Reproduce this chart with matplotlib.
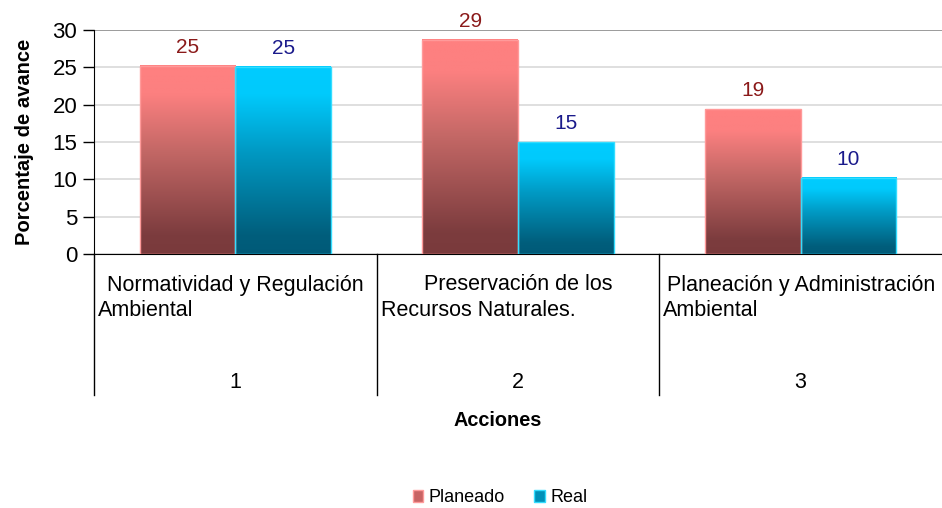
import numpy as np
import matplotlib
matplotlib.use("Agg")
import matplotlib.pyplot as plt
from matplotlib.colors import LinearSegmentedColormap
from matplotlib.patches import Rectangle
import matplotlib.transforms as mtransforms

# ---- data ----
categories_line1 = ["Normatividad y Regulación", "Preservación de los", "Planeación y Administración"]
categories_line2 = ["Ambiental", "Recursos Naturales.", "Ambiental"]
category_numbers = ["1", "2", "3"]
series_names = ["Planeado", "Real"]
planeado = [25.2, 28.7, 19.4]
real = [25.1, 15.0, 10.2]
planeado_labels = ["25", "29", "19"]
real_labels = ["25", "15", "10"]
yticks = [0, 5, 10, 15, 20, 25, 30]

plt.rcParams['font.family'] = ['Liberation Sans', 'DejaVu Sans']
fig = plt.figure(figsize=(9.42, 5.08), dpi=100)
ax = fig.add_axes([94/942, 1-254/508, 1-94/942, (254-30)/508])

cmap_p = LinearSegmentedColormap.from_list(
    "p", [(0, "#7a3a3c"), (0.1, "#7c3c3e"), (0.55, "#c46866"), (0.85, "#fc8080"), (1, "#ff8080")])
cmap_r = LinearSegmentedColormap.from_list(
    "r", [(0, "#005a78"), (0.1, "#005e7c"), (0.55, "#009ac4"), (0.85, "#00cafc"), (1, "#00ccff")])

bar_w = 0.338
x = np.arange(len(planeado))
grad = np.linspace(0, 1, 256).reshape(-1, 1)

def gbar(xc, h, cmap, edge):
    x0 = xc - bar_w/2
    ax.imshow(grad, extent=(x0, x0+bar_w, 0, h), origin='lower', cmap=cmap,
              aspect='auto', zorder=3, interpolation='bilinear')
    ax.add_patch(Rectangle((x0, 0), bar_w, h, fill=False, edgecolor=edge, lw=1.0, zorder=4))

for i in range(len(x)):
    gbar(x[i] - bar_w/2, planeado[i], cmap_p, "#ff9a9a")
    gbar(x[i] + bar_w/2, real[i], cmap_r, "#33ddff")
    ax.text(x[i] - bar_w/2, planeado[i] + 1.2, planeado_labels[i], ha='center', va='bottom',
            fontsize=15, color="#8b1a1a", zorder=5)
    ax.text(x[i] + bar_w/2, real[i] + 1.2, real_labels[i], ha='center', va='bottom',
            fontsize=15, color="#1a1a8b", zorder=5)

ax.set_xlim(-0.5, 2.5)
ax.set_ylim(0, 30)
ax.set_yticks(yticks)
ax.set_yticklabels([str(v) for v in yticks], fontsize=16)
ax.yaxis.grid(True, color="#d9d9d9", lw=1.2, zorder=0)
ax.set_axisbelow(True)
ax.set_xticks([])
ax.tick_params(axis='y', length=8, width=1, color='black', pad=4)
for s in ['top', 'right']:
    ax.spines[s].set_visible(False)
ax.spines['left'].set_color('black')
ax.spines['bottom'].set_color('black')
ax.axhline(30, color="#909090", lw=1.2, zorder=1)

ax.set_ylabel("Porcentaje de avance", fontsize=14.5, fontweight='bold', labelpad=13)

trans = mtransforms.blended_transform_factory(ax.transData, ax.transAxes)
axh = (254-30)
def ay(py):
    return (254 - py) / axh

for b in [-0.5, 0.5, 1.5]:
    ax.plot([b, b], [0, ay(395)], transform=trans, color='black', lw=1, clip_on=False)

for i in range(len(x)):
    ax.text(x[i], ay(285), categories_line1[i], transform=trans, ha='center', va='center',
            fontsize=15.5)
    ax.text(x[i] - 0.5 + 0.014, ay(311), categories_line2[i], transform=trans, ha='left', va='center',
            fontsize=15.5)
    ax.text(x[i], ay(383), category_numbers[i], transform=trans, ha='center', va='center',
            fontsize=15.5)

fig.text(498/942, 1-420/508, "Acciones", ha='center', va='center', fontsize=14.3, fontweight='bold')

handles = [Rectangle((0, 0), 1, 1, facecolor="#c86464", edgecolor="#ff9a9a"),
           Rectangle((0, 0), 1, 1, facecolor="#0090b8", edgecolor="#33ddff")]
fig.legend(handles, series_names, loc='center', bbox_to_anchor=(500/942, 1-498/508), ncol=2,
           frameon=False, fontsize=13, handlelength=0.6, handleheight=0.6, handletextpad=0.3,
           columnspacing=1.6)

fig.savefig("out.png", dpi=100)
